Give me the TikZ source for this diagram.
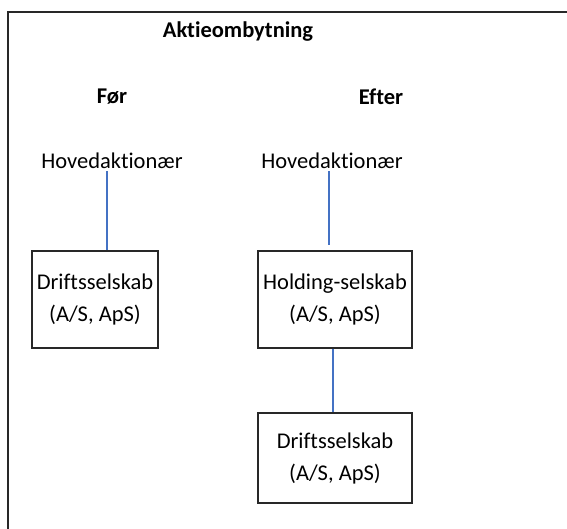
\documentclass[tikz,border=0pt]{standalone}
\usepackage{fontspec}
\setmainfont{Carlito}[Ligatures=NoCommon]
\usetikzlibrary{positioning}
\definecolor{framegray}{RGB}{40,40,40}
\definecolor{linkblue}{RGB}{68,114,196}
\tikzset{
  label text/.style={font=\fontsize{22.5}{31}\selectfont, inner sep=2pt},
  title text/.style={font=\fontsize{22.5}{31}\selectfont\bfseries, inner sep=2pt},
  company/.style={draw=framegray, line width=1.2pt, align=center,
                  font=\fontsize{22.5}{32}\selectfont, minimum height=97pt},
  link/.style={linkblue, line width=1.2pt}
}

\begin{document}
\begin{tikzpicture}[x=1pt, y=-1pt]
  \useasboundingbox (0,0) rectangle (567,529);

  % Frame
  \draw[framegray, line width=1.6pt] (567,12) -- (8,12) -- (8,529);

  % Titles
  \node[title text] (title) at (238,32) {Aktieombytning};
  \node[title text] (foer) at (112,97) {Før};
  \node[title text] (efter) at (381,97) {Efter};

  % Shareholders
  \node[label text] (hovL) at (112,161) {Hovedaktionær};
  \node[label text] (hovR) at (332,161) {Hovedaktionær};

  % Companies
  \node[company, minimum width=126pt] (driftL) at (95,299.5) {Driftsselskab\\(A/S, ApS)};
  \node[company, minimum width=154pt] (holding) at (335,299.5) {Holding-selskab\\(A/S, ApS)};
  \node[company, minimum width=154pt, minimum height=90pt] (driftR) at (335,458)
       {Driftsselskab\\(A/S, ApS)};

  % Ownership lines
  \draw[link] ([xshift=-5pt]hovL.south) -- ([xshift=-5pt]hovL.south |- driftL.north);
  \draw[link, shorten >=5pt] ([xshift=-3pt]hovR.south) -- ([xshift=-3pt]hovR.south |- holding.north);
  \draw[link] ([xshift=-2pt]holding.south) -- ([xshift=-2pt]holding.south |- driftR.north);
\end{tikzpicture}
\end{document}
